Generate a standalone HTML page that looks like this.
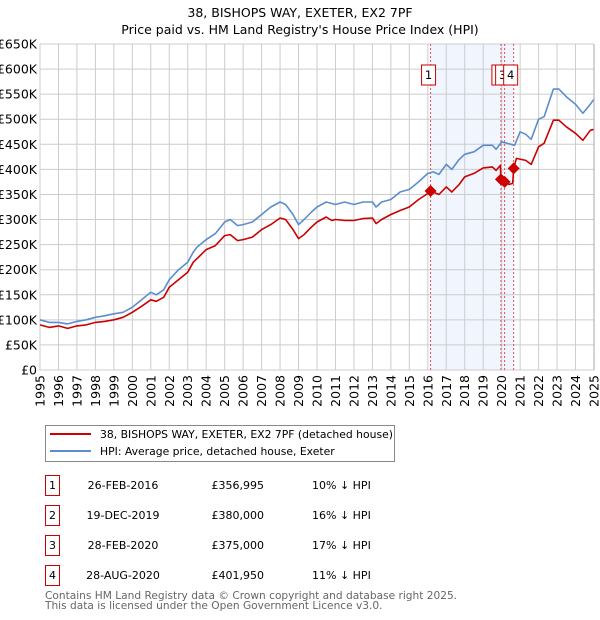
<!DOCTYPE html>
<html><head><meta charset="utf-8"><style>
body{margin:0;background:#fff;font-family:"Liberation Sans","DejaVu Sans",sans-serif}
svg{display:block}
</style></head><body>
<svg id="c" width="600" height="620" xmlns="http://www.w3.org/2000/svg" font-family="DejaVu Sans, Liberation Sans, sans-serif">
<text x="300" y="17" text-anchor="middle" font-size="12.5">38, BISHOPS WAY, EXETER, EX2 7PF</text>
<text x="300" y="34" text-anchor="middle" font-size="12.5">Price paid vs. HM Land Registry's House Price Index (HPI)</text>
<g id="plot"></g>
<g>
<rect x="45.5" y="425.5" width="349" height="36" fill="#fff" stroke="#888"/>
<line x1="50" y1="434" x2="91" y2="434" stroke="#cc0000" stroke-width="2"/>
<text x="100" y="438" font-size="10.8">38, BISHOPS WAY, EXETER, EX2 7PF (detached house)</text>
<line x1="50" y1="451" x2="91" y2="451" stroke="#5b8dcf" stroke-width="2"/>
<text x="100" y="455" font-size="10.8">HPI: Average price, detached house, Exeter</text>
</g>
<g id="table" font-size="11"></g>
<text x="45" y="599" font-size="10.6" fill="#666">Contains HM Land Registry data © Crown copyright and database right 2025.</text>
<text x="45" y="609" font-size="10.6" fill="#666">This data is licensed under the Open Government Licence v3.0.</text>
</svg>
<script>
const hpiT=[1995,1995.5,1996,1996.5,1997,1997.5,1998,1998.5,1999,1999.5,2000,2000.5,2001,2001.3,2001.7,2002,2002.5,2003,2003.3,2003.5,2004,2004.5,2005,2005.3,2005.7,2006,2006.5,2007,2007.5,2008,2008.3,2008.7,2009,2009.3,2009.7,2010,2010.5,2010.8,2011,2011.5,2012,2012.5,2013,2013.2,2013.5,2014,2014.5,2015,2015.5,2016,2016.3,2016.6,2017,2017.3,2017.7,2018,2018.5,2019,2019.5,2019.7,2020,2020.5,2020.7,2021,2021.3,2021.6,2022,2022.3,2022.8,2023.1,2023.5,2024,2024.4,2024.8,2025];
const hpiV=[100,95,95,92,97,100,105,108,112,115,125,140,155,150,160,180,200,215,235,245,260,272,295,300,288,290,295,310,325,335,330,310,290,300,315,325,335,332,330,335,330,335,335,325,335,340,355,360,375,392,395,390,410,400,420,430,435,448,448,440,455,450,448,475,470,460,500,505,560,560,545,530,512,530,540];
const ppT=[1995,1995.5,1996,1996.5,1997,1997.5,1998,1998.5,1999,1999.5,2000,2000.5,2001,2001.3,2001.7,2002,2002.5,2003,2003.3,2003.5,2004,2004.5,2005,2005.3,2005.7,2006,2006.5,2007,2007.5,2008,2008.3,2008.7,2009,2009.3,2009.7,2010,2010.5,2010.8,2011,2011.5,2012,2012.5,2013,2013.2,2013.5,2014,2014.5,2015,2015.5,2016,2016.15,2016.6,2017,2017.3,2017.7,2018,2018.5,2019,2019.5,2019.7,2019.93,2019.96,2020.16,2020.4,2020.6,2020.65,2020.8,2021.3,2021.6,2022,2022.3,2022.8,2023.1,2023.5,2024,2024.4,2024.8,2025];
const ppV=[90,85,88,83,88,90,95,97,100,105,115,127,140,137,145,165,180,195,215,222,240,248,268,270,258,260,265,280,290,303,300,280,262,270,285,295,305,298,300,298,298,302,303,292,300,310,318,325,340,352,357,350,365,355,370,385,392,403,405,398,408,380,375,370,372,402,422,418,410,445,452,498,498,485,472,458,478,480];
const saleT=[2016.15,2019.96,2020.16,2020.65];
const saleV=[356995,380000,375000,401950];
const saleLabels=["1","2","3","4"];
const saleDates=["26-FEB-2016","19-DEC-2019","28-FEB-2020","28-AUG-2020"];
const salePrices=["£356,995","£380,000","£375,000","£401,950"];
const saleHpi=["10% ↓ HPI","16% ↓ HPI","17% ↓ HPI","11% ↓ HPI"];
const yTicks=[0,50,100,150,200,250,300,350,400,450,500,550,600,650];
const yTickLabels=["£0","£50K","£100K","£150K","£200K","£250K","£300K","£350K","£400K","£450K","£500K","£550K","£600K","£650K"];
const xYears=[1995,1996,1997,1998,1999,2000,2001,2002,2003,2004,2005,2006,2007,2008,2009,2010,2011,2012,2013,2014,2015,2016,2017,2018,2019,2020,2021,2022,2023,2024,2025];
const NS="http://www.w3.org/2000/svg";
const X0=40,X1=594,Y0=370,Y1=44;
const xs=t=>X0+(t-1995)/30*(X1-X0);
const ys=k=>Y0-k/650*(Y0-Y1);
const g=document.getElementById('plot');
function mk(tag,at,parent){const e=document.createElementNS(NS,tag);for(const k in at)e.setAttribute(k,at[k]);(parent||g).appendChild(e);return e;}
let e;
e=mk('rect',{x:xs(saleT[0]),y:Y1,width:xs(saleT[3])-xs(saleT[0]),height:Y0-Y1,fill:'#eef3fc',opacity:0.8});


yTicks.forEach((v,i)=>{
 e=mk('line',{x1:X0,x2:X1,y1:ys(v),y2:ys(v),stroke:'#ccc','stroke-width':1});
 
 
 e=mk('text',{x:X0-3,y:ys(v)+4.5,'text-anchor':'end','font-size':12.5});
 e.textContent=yTickLabels[i];
 
 
});
xYears.forEach(yr=>{
 e=mk('line',{x1:xs(yr),x2:xs(yr),y1:Y1,y2:Y0,stroke:'#ccc','stroke-width':1});
 
 
 const tx=xs(yr)+4.5,ty=Y0+5;
 e=mk('text',{x:tx,y:ty,'text-anchor':'end','font-size':12.5,transform:`rotate(-90 ${tx} ${ty})`});
 e.textContent=yr;
 
 
});
saleT.forEach((t,i)=>{
 e=mk('line',{x1:xs(t),x2:xs(t),y1:Y1,y2:Y0,stroke:'#e05050','stroke-width':1,'stroke-dasharray':'2,2'});
 
 
});
function path(T,V,col,name){
 const d=T.map((t,i)=>(i?'L':'M')+xs(t).toFixed(1)+','+ys(V[i]).toFixed(1)).join('');
 e=mk('path',{d:d,fill:'none',stroke:col,'stroke-width':1.6,'stroke-linejoin':'round'});
 
 
}
path(hpiT,hpiV,'#5b8dcf','hpi-line');
path(ppT,ppV,'#cc0000','price-paid-line');
saleT.forEach((t,i)=>{
 const cx=xs(t),cy=ys(saleV[i]/1000);
 e=mk('path',{d:`M${cx},${cy-6}L${cx+6},${cy}L${cx},${cy+6}L${cx-6},${cy}Z`,fill:'#cc0000'});
 
 
});
saleT.forEach((t,i)=>{
 const bx=i===3?xs(t)-10:xs(t)-9;
 e=mk('rect',{x:bx,y:65,width:14,height:20,fill:'#fff',stroke:'#cc0000','stroke-width':1});
 
 
 e=mk('text',{x:bx+7,y:79,'text-anchor':'middle','font-size':11.5});
 e.textContent=saleLabels[i];
 
 
});
mk('line',{x1:X1,x2:X1,y1:Y1,y2:Y0,stroke:'#aaa'});
const tb=document.getElementById('table');
saleLabels.forEach((l,i)=>{
 const y=475+i*30;
 e=mk('rect',{x:45.5,y:y+0.5,width:14,height:20,fill:'#fff',stroke:'#cc0000'},tb);
 
 
 e=mk('text',{x:52.5,y:y+14,'text-anchor':'middle'},tb);e.textContent=l;
 
 
 e=mk('text',{x:123,y:y+14,'text-anchor':'middle'},tb);e.textContent=saleDates[i];
 
 
 e=mk('text',{x:264,y:y+14,'text-anchor':'end'},tb);e.textContent=salePrices[i];
 
 
 e=mk('text',{x:312,y:y+14},tb);e.textContent=saleHpi[i];
 
 
});
</script>
</body></html>
